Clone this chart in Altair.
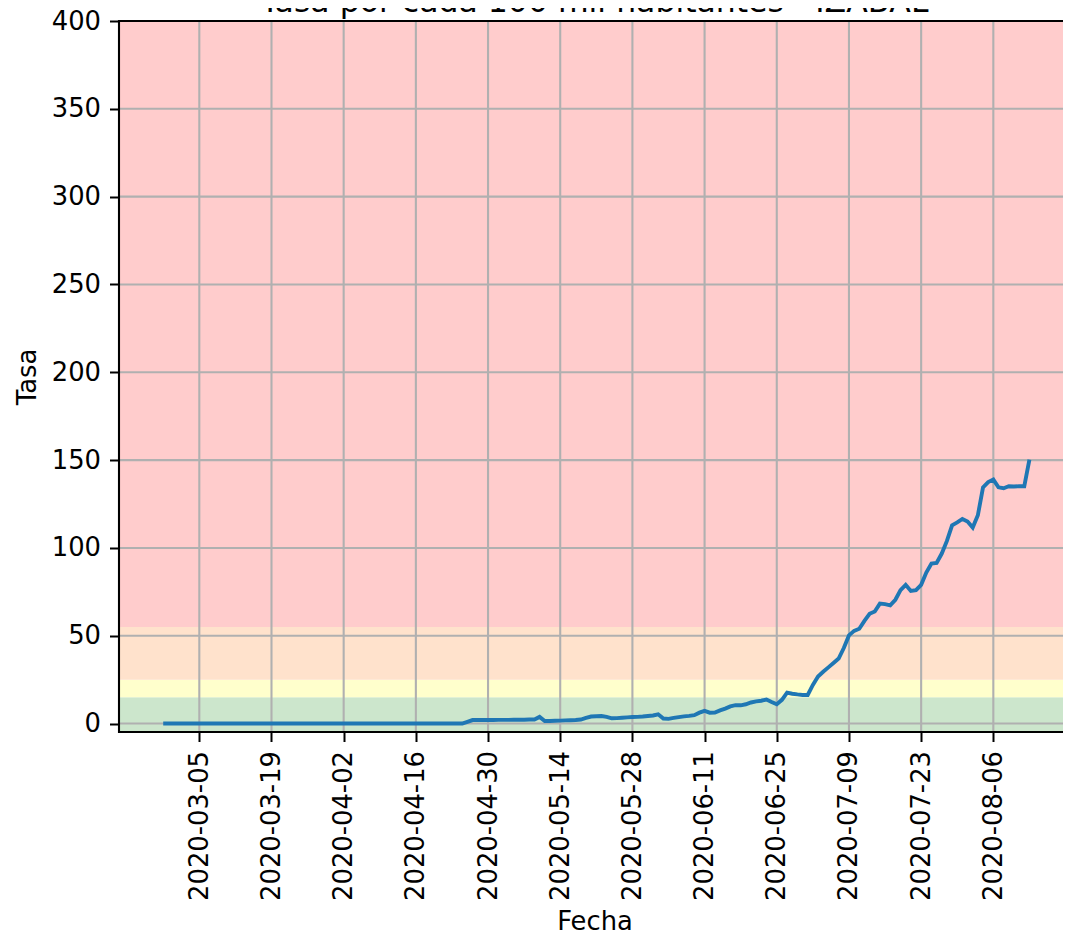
import altair as alt
import pandas as pd

# ---------------- data ----------------
start_date = "2020-02-27"
tasa = [
    0.0, 0.0, 0.0, 0.0, 0.0, 0.0, 0.0, 0.0, 0.0, 0.0,
    0.0, 0.0, 0.0, 0.0, 0.0, 0.0, 0.0, 0.0, 0.0, 0.0,
    0.0, 0.0, 0.0, 0.0, 0.0, 0.0, 0.0, 0.0, 0.0, 0.0,
    0.0, 0.0, 0.0, 0.0, 0.0, 0.0, 0.0, 0.0, 0.0, 0.0,
    0.0, 0.0, 0.0, 0.0, 0.0, 0.0, 0.0, 0.0, 0.0, 0.0,
    0.0, 0.0, 0.0, 0.0, 0.0, 0.0, 0.0, 0.0, 0.0,
    1.0,
    2.0, 2.0, 2.0, 2.0, 2.0, 2.1, 2.1, 2.1, 2.2, 2.2, 2.2, 2.3, 2.3,
    3.8,
    1.5, 1.5, 1.6, 1.7, 1.8, 1.9, 2.0, 2.3,
    3.2, 4.0, 4.2, 4.3, 3.8,
    3.0, 3.1, 3.3, 3.5, 3.7, 3.8, 4.0, 4.3, 4.6, 5.3,
    2.9, 2.7, 3.2, 3.7, 4.1, 4.4, 4.8, 6.2, 7.2,
    6.2, 6.3, 7.5, 8.5, 9.8, 10.5, 10.4, 11.0, 12.0, 12.6, 13.0, 13.7,
    12.3, 11.0, 13.5, 17.6, 17.0, 16.6, 16.3, 16.3, 22.0, 26.8,
    29.5, 32.0, 34.5, 37.0, 43.0, 50.2, 52.8, 54.0, 58.5, 62.5,
    63.8, 68.3, 68.0, 67.3, 70.5, 76.0, 79.0, 75.5, 76.0, 79.0,
    86.0, 91.1, 91.4, 96.8, 104.0, 112.9, 114.5, 116.5, 115.0, 111.6,
    118.6, 134.5, 137.5, 138.9, 134.5, 134.0, 135.1, 135.0, 135.1, 135.1, 150.3,
]
tick_dates = [
    "2020-03-05", "2020-03-19", "2020-04-02", "2020-04-16", "2020-04-30",
    "2020-05-14", "2020-05-28", "2020-06-11", "2020-06-25", "2020-07-09",
    "2020-07-23", "2020-08-06",
]
y_ticks = [0, 50, 100, 150, 200, 250, 300, 350, 400]
band_lo = [-4.8, 15, 25, 55]
band_hi = [15, 25, 55, 400]
band_colors = ["#cce6cc", "#ffffcc", "#ffe2cc", "#ffcccc"]
title_text = "Tasa por cada 100 mil habitantes - IZABAL"

# ---------------- layout ----------------
W, H = 943, 711
W_FULL = 951  # frame drawn to the reference's right edge
FONT = "DejaVu Sans"
FS = 25.8

df = pd.DataFrame({
    "Fecha": pd.date_range(start_date, periods=len(tasa), freq="D").strftime("%Y-%m-%d"),
    "Tasa": tasa,
})
bands_df = pd.DataFrame({"lo": band_lo, "hi": band_hi, "color": band_colors})
vgrid_df = pd.DataFrame({"d": tick_dates})
hgrid_df = pd.DataFrame({"v": y_ticks})


def dt(s, h=0, m=0):
    y, mo, d = (int(p) for p in s.split("-"))
    return alt.DateTime(year=y, month=mo, date=d, hours=h, minutes=m, utc=True)


xscale = alt.Scale(type="utc", domain=[dt("2020-02-18", 10, 12), dt("2020-08-19", 7, 40)], nice=False)
yscale = alt.Scale(domain=[-4.8, 400], nice=False, zero=False)

x_axis = alt.Axis(
    values=[dt(s) for s in tick_dates], format="%Y-%m-%d", labelAngle=270,
    labelFont=FONT, labelFontSize=FS, labelColor="black", labelPadding=9,
    labelOverlap=False, labelFlush=False, labelBound=False,
    tickSize=9.5, tickWidth=2, tickColor="black", domain=False, grid=False,
    title="Fecha", titleFont=FONT, titleFontSize=FS, titleFontWeight="normal",
    titleColor="black", titleX=475.5, titleY=197, titleBaseline="alphabetic",
    titleAlign="center", zindex=1,
)
y_axis = alt.Axis(
    values=y_ticks, labelFont=FONT, labelFontSize=FS, labelColor="black",
    labelPadding=9, labelOverlap=False, labelFlush=False, labelBound=False,
    tickSize=9.5, tickWidth=2, tickColor="black", domain=False, grid=False,
    title="Tasa", titleFont=FONT, titleFontSize=FS, titleFontWeight="normal",
    titleColor="black", titleX=-84, titleY=H / 2, titleAngle=270,
    titleBaseline="alphabetic", titleAlign="center", zindex=1,
)

bands = alt.Chart(bands_df).mark_rect().encode(
    y=alt.Y("lo:Q", scale=yscale, axis=y_axis),
    y2="hi:Q",
    x=alt.value(0), x2=alt.value(W_FULL),
    color=alt.Color("color:N", scale=None),
)

vgrid = alt.Chart(vgrid_df).mark_rule(color="#b0b0b0", strokeWidth=2.1).encode(
    x=alt.X("d:T", scale=xscale, axis=x_axis),
    y=alt.value(0), y2=alt.value(H),
)

hgrid = alt.Chart(hgrid_df).mark_rule(color="#b0b0b0", strokeWidth=2.1).encode(
    y=alt.Y("v:Q", scale=yscale, axis=y_axis),
    x=alt.value(0), x2=alt.value(W_FULL),
)

line = alt.Chart(df).mark_line(color="#1f77b4", strokeWidth=3.9).encode(
    x=alt.X("Fecha:T", scale=xscale, axis=x_axis),
    y=alt.Y("Tasa:Q", scale=yscale, axis=y_axis),
)

border = alt.Chart(pd.DataFrame({"k": [0]})).mark_rect(
    fillOpacity=0, stroke="black", strokeWidth=2.1
).encode(x=alt.value(0), x2=alt.value(W_FULL), y=alt.value(0), y2=alt.value(H))

title_mark = alt.Chart(pd.DataFrame({"t": [title_text]})).mark_text(
    font=FONT, fontSize=31.5, baseline="alphabetic", align="center", color="black"
).encode(x=alt.value(475.5), y=alt.value(-9.5), text="t:N")

chart = alt.layer(bands, vgrid, hgrid, line, border, title_mark).properties(
    width=W, height=H,
    padding={"left": 111, "top": 13, "right": 1, "bottom": 200},
    autosize=alt.AutoSizeParams(type="none"),
    background="white",
).configure_view(strokeWidth=0)

chart.save("out.html", embed_options={"renderer": "svg", "actions": False})
